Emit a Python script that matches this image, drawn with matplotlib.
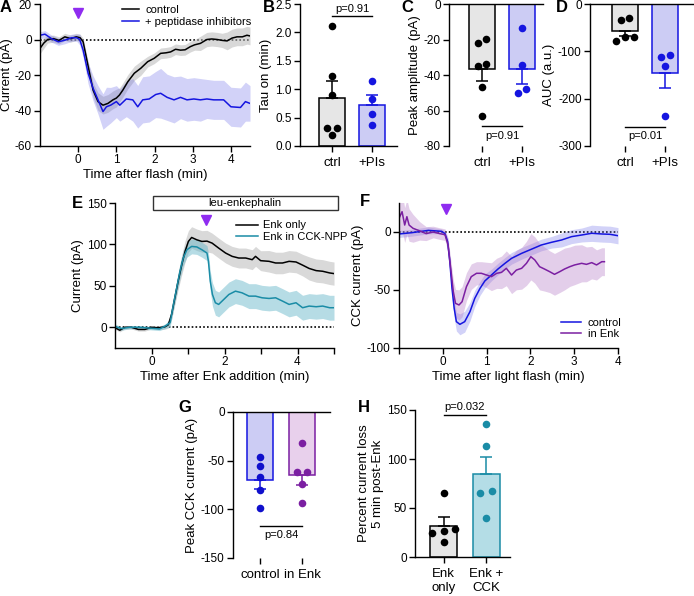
import numpy as np
import matplotlib
matplotlib.use('Agg')
import matplotlib.pyplot as plt
from matplotlib.patches import Rectangle

plt.rcParams['font.family'] = ['Liberation Sans', 'DejaVu Sans']
plt.rcParams['axes.unicode_minus'] = False
plt.rcParams['axes.linewidth'] = 1.0

# ---- data ----
# A: light-evoked current, control vs + peptidase inhibitors
a_ctrl_t = [-1.0, -0.9, -0.8, -0.65, -0.5, -0.35, -0.2, -0.05, 0.05, 0.13, 0.26, 0.39, 0.52, 0.65, 0.78,
            0.91, 1.0, 1.08, 1.17, 1.3, 1.47, 1.64, 1.82, 1.99, 2.16, 2.3, 2.42, 2.55, 2.68, 2.8, 2.94,
            3.05, 3.2, 3.37, 3.5, 3.64, 3.77, 3.9, 4.03, 4.16, 4.3, 4.42, 4.5]
a_ctrl_mean = [-5, -2, 0, 0.5, -0.5, 1.5, 0.5, 1.5, 1, -1.3, -15, -28.5, -35, -37, -36, -34, -33, -31.3,
               -28.5, -23.8, -19, -16.2, -12.5, -10.6, -7.8, -7.5, -7, -5.5, -6, -5.8, -4, -3, -2.2, 0,
               0.3, 0, -0.5, -0.8, 0.8, 1.5, 1.5, 2.4, 2]
a_ctrl_sem = [3, 3, 2, 2, 2, 2, 2, 2, 2, 2, 3, 4, 5, 5, 5, 5, 5, 4, 4, 4, 4, 4, 3, 3, 3, 3, 3, 3, 3, 3,
              3, 3, 4, 4, 4, 4, 4, 5, 5, 5, 5, 5, 5]
a_pi_t = [-1.0, -0.87, -0.7, -0.52, -0.35, -0.17, -0.04, 0.04, 0.13, 0.26, 0.39, 0.52, 0.65, 0.74, 0.85,
          1.0, 1.09, 1.26, 1.43, 1.56, 1.69, 1.86, 2.03, 2.16, 2.33, 2.51, 2.68, 2.85, 3.03, 3.2, 3.37,
          3.55, 3.81, 4.0, 4.25, 4.38, 4.5]
a_pi_mean = [2.4, 3, 0.5, -1.3, -0.4, 1, 1, 0, -6, -19, -27.5, -34, -40.6, -37.9, -37, -35, -37, -33.5,
             -34, -37.9, -34, -33.5, -31, -30.3, -32.6, -34, -32.6, -34, -33.5, -34, -33.5, -34, -34,
             -37.9, -38.3, -35, -36]
a_pi_sem = [2, 2, 2, 2, 2, 2, 2, 3, 4, 6, 7, 8, 10, 11, 10, 9, 9, 10, 12, 12, 13, 13, 13, 14, 13, 13,
            12, 12, 12, 12, 11, 11, 11, 11, 11, 11, 10]

# B-D: individual cells
b_ctrl = [2.12, 1.23, 0.90, 0.32, 0.32, 0.19]
b_pis = [1.14, 0.83, 0.56, 0.37]
c_ctrl = [-22.2, -19.9, -34.8, -33.8, -46.6, -62.9]
c_pis = [-13.3, -34.4, -50.0, -48.0]
d_ctrl = [-30.3, -33.8, -77.5, -70.4, -70.4]
d_pis = [-111.3, -107.7, -130.3, -236.6]
bcd_labels = ['ctrl', '+PIs']

# E: enkephalin current
e_enk_t = [-1.0, -0.87, -0.73, -0.55, -0.36, -0.18, 0.0, 0.18, 0.37, 0.46, 0.55, 0.64, 0.73, 0.83, 0.92,
           1.01, 1.10, 1.24, 1.38, 1.52, 1.66, 1.84, 2.03, 2.21, 2.39, 2.58, 2.76, 2.85, 2.99, 3.22, 3.4,
           3.59, 3.77, 3.96, 4.14, 4.32, 4.51, 4.69, 4.88, 5.0]
e_enk_mean = [-0.4, -3.6, 0, 0, -2.6, -2.6, 0, -0.6, 0.6, 3, 15.6, 35.6, 55.6, 75.6, 91.6, 103.6, 108.4,
              105.6, 103.6, 104, 101.6, 95.6, 89.6, 85.6, 83.6, 83.6, 81.6, 85.6, 80.4, 79.6, 77.6, 77.6,
              79.6, 78.8, 75, 71, 68.4, 67.6, 65.6, 64.8]
e_enk_sem = [2, 2, 2, 2, 2, 2, 2, 2, 3, 4, 6, 8, 10, 12, 13, 13, 13, 13, 13, 13, 12, 12, 12, 12, 12, 12,
             12, 12, 12, 13, 13, 13, 13, 13, 13, 14, 14, 14, 14, 14]
e_npp_t = [-1.0, -0.83, -0.6, -0.33, -0.05, 0.22, 0.4, 0.51, 0.60, 0.69, 0.78, 0.87, 0.97, 1.10, 1.24,
           1.38, 1.52, 1.56, 1.61, 1.67, 1.75, 1.84, 1.98, 2.12, 2.30, 2.48, 2.67, 2.85, 3.03, 3.22, 3.40,
           3.59, 3.77, 3.96, 4.14, 4.32, 4.51, 4.69, 4.88, 5.0]
e_npp_mean = [1, -1.5, 0, 0, -1, -2, 2, 5.6, 27.6, 47.6, 67.6, 83.6, 93.6, 97.6, 97, 93.6, 89.6, 79.6,
              55.6, 39.6, 29.6, 27.6, 33.6, 39.6, 43.6, 41.6, 37.6, 37.6, 35.6, 34.8, 35.6, 31.6, 27.6,
              29.6, 23.6, 25.6, 24.8, 25.6, 23.6, 23.6]
e_npp_sem = [3, 2, 2, 2, 2, 2, 3, 5, 7, 8, 9, 9, 9, 9, 9, 9, 9, 10, 12, 14, 15, 15, 15, 15, 15, 15, 15,
             15, 15, 15, 15, 15, 15, 15, 15, 15, 15, 15, 15, 15]

# F: CCK current, control vs in Enk
f_ctrl_t = [-1.0, -0.71, -0.33, -0.03, 0.05, 0.11, 0.16, 0.21, 0.26, 0.31, 0.39, 0.5, 0.62, 0.73, 0.85,
            0.96, 1.11, 1.26, 1.42, 1.57, 1.8, 2.02, 2.25, 2.48, 2.71, 2.94, 3.17, 3.4, 3.63, 3.82, 4.0]
f_ctrl_mean = [-1.7, -0.6, 1.4, 0.6, -1.4, -8.3, -25.6, -48.6, -65.8, -77.3, -79.6, -77.3, -68.7, -57.2,
               -48.6, -42.2, -37.1, -31.9, -27, -22.7, -18.4, -14.9, -11.2, -8.9, -6.9, -4, -2.6, -1.1,
               -1.7, -2, -3.2]
f_ctrl_sem = [3, 3, 3, 2, 2, 3, 5, 7, 8, 8, 9, 9, 8, 7, 6, 6, 5, 5, 5, 5, 5, 5, 5, 5, 6, 6, 6, 7, 7, 7, 7]
f_enk_t = [-1.0, -0.93, -0.87, -0.82, -0.77, -0.68, -0.53, -0.38, -0.22, -0.07, 0.05, 0.12, 0.18, 0.24,
           0.29, 0.37, 0.44, 0.54, 0.65, 0.77, 0.88, 1.0, 1.11, 1.23, 1.34, 1.45, 1.57, 1.68, 1.8, 1.91,
           2.01, 2.1, 2.21, 2.32, 2.44, 2.55, 2.67, 2.78, 2.9, 3.01, 3.17, 3.28, 3.4, 3.51, 3.63, 3.69]
f_enk_mean = [11.8, 17.5, 6, 13.2, 6, 3.2, 1, -1.4, 0, -1.4, -2.3, -11.2, -31.3, -51.4, -61.5, -62.9,
              -60.1, -47.1, -38.5, -35.6, -35.6, -37.1, -38.5, -35.6, -34.8, -31.3, -37.1, -32.8, -31.3,
              -27, -21.3, -24.1, -29.9, -31.9, -34.2, -36.5, -34.2, -31.9, -29.9, -28.4, -27, -27.9,
              -26.4, -28.4, -25.6, -25.6]
f_enk_sem = [14, 16, 15, 15, 14, 12, 8, 6, 5, 5, 5, 6, 8, 10, 12, 13, 13, 12, 11, 10, 10, 11, 12, 13, 14,
             15, 16, 17, 18, 19, 20, 20, 20, 19, 18, 18, 18, 18, 17, 17, 16, 15, 14, 13, 12, 12]

# G, H: individual cells
g_ctrl = [-45.9, -55.2, -67.1, -80.2, -99.0]
g_enk = [-31.5, -61.3, -61.3, -74.3, -93.5]
g_labels = ['control', 'in Enk']
h_enk = [65.8, 28.5, 26.1, 25.0, 14.9]
h_cck = [135.4, 113.6, 67.5, 65.2, 40.3]
h_labels = ['Enk\nonly', 'Enk +\nCCK']

flash_time = 0.0
enk_flash_time = 1.5

# ---- colours ----
BLUE = '#1515e0'
BLUE_FACE = '#ccccf4'
GRAY_FACE = '#e6e6e6'
PURPLE = '#7b1fa2'
PURPLE_FACE = '#e8d0ec'
TEAL = '#1a8ca6'
TEAL_FACE = '#b4dde6'
VIOLET = '#8f2cf0'

W, H = 694, 596
fig = plt.figure(figsize=(W / 100, H / 100), dpi=100)


def box(x0, y0, x1, y1):
    return [x0 / W, 1 - y1 / H, (x1 - x0) / W, (y1 - y0) / H]


def style(ax):
    for s in ['top', 'right']:
        ax.spines[s].set_visible(False)
    ax.tick_params(direction='out', length=4, width=1, labelsize=8.5, pad=2)


def trace(ax, t, m, s, color, band, alpha, label):
    t, m, s = np.array(t), np.array(m), np.array(s)
    ax.fill_between(t, m - s, m + s, color=band, alpha=alpha, lw=0)
    ax.plot(t, m, color=color, lw=1.1, label=label)


def swarm(vals, tol, step):
    vals = np.asarray(vals)
    order = np.argsort(vals)
    offs = np.zeros(len(vals))
    groups, cur = [], [order[0]]
    for i in order[1:]:
        if vals[i] - vals[cur[-1]] < tol:
            cur.append(i)
        else:
            groups.append(cur)
            cur = [i]
    groups.append(cur)
    for g in groups:
        for k, i in enumerate(g):
            offs[i] = (k - (len(g) - 1) / 2) * step
    return offs


def bars(ax, groups, labels, faces, edges, dots, tol, step, width=0.64):
    for i, vals in enumerate(groups):
        v = np.array(vals)
        mean = v.mean()
        sem = v.std(ddof=1) / np.sqrt(len(v))
        ax.bar(i, mean, width, color=faces[i], edgecolor=edges[i], lw=1.1, zorder=1)
        yerr = [[0], [sem]] if mean > 0 else [[sem], [0]]
        ax.errorbar(i, mean, yerr=yerr, color=edges[i], capsize=4.5, elinewidth=1.1,
                    capthick=1.1, zorder=2)
        ax.scatter(i + swarm(v, tol, step), v, s=30, color=dots[i], lw=0, zorder=3)
    ax.set_xticks(range(len(groups)))
    ax.set_xticklabels(labels, fontsize=9.5)
    ax.tick_params(axis='x', pad=4)


def neg_axis(ax):
    ax.spines['bottom'].set_visible(False)
    ax.spines['top'].set_visible(True)


def zero_line(ax):
    ax.axhline(0, color='black', ls=(0, (1, 1.3)), lw=1.2, zorder=0)


# ---- A ----
axA = fig.add_axes(box(40, 4, 250, 146))
style(axA)
zero_line(axA)
trace(axA, a_ctrl_t, a_ctrl_mean, a_ctrl_sem, 'black', '#b8b8b8', 0.55, 'control')
trace(axA, a_pi_t, a_pi_mean, a_pi_sem, BLUE, '#6a6ae8', 0.3, '+ peptidase inhibitors')
axA.plot([flash_time], [15], marker='v', ms=6.5, color=VIOLET, clip_on=False)
axA.set_xlim(-1, 4.5)
axA.set_ylim(-60, 20)
axA.set_xticks([0, 1, 2, 3, 4])
axA.set_yticks([-60, -40, -20, 0, 20])
axA.set_xlabel('Time after flash (min)', fontsize=9.5, labelpad=2)
axA.set_ylabel('Current (pA)', fontsize=9.5, labelpad=1)
axA.legend(loc='upper left', bbox_to_anchor=(0.37, 1.025), frameon=False, fontsize=8,
           handlelength=1.5, handletextpad=0.6, labelspacing=0.15, borderaxespad=0)

# ---- B ----
axB = fig.add_axes(box(300, 4, 397, 146))
style(axB)
bars(axB, [b_ctrl, b_pis], bcd_labels, [GRAY_FACE, BLUE_FACE], ['black', BLUE], ['black', BLUE],
     0.1, 0.23)
axB.set_xlim(-0.8, 1.62)
axB.set_ylim(0, 2.5)
axB.set_yticks([0, 0.5, 1.0, 1.5, 2.0, 2.5])
axB.set_yticklabels(['0.0', '0.5', '1.0', '1.5', '2.0', '2.5'])
axB.set_ylabel('Tau on (min)', fontsize=9.5, labelpad=2)
axB.plot([0, 1], [2.28, 2.28], color='black', lw=1)
axB.text(0.5, 2.33, 'p=0.91', ha='center', va='bottom', fontsize=8)

# ---- C ----
axC = fig.add_axes(box(449, 4, 543, 146))
style(axC)
neg_axis(axC)
bars(axC, [c_ctrl, c_pis], bcd_labels, [GRAY_FACE, BLUE_FACE], ['black', BLUE], ['black', BLUE],
     3.4, 0.21)
axC.set_xlim(-0.83, 1.53)
axC.set_ylim(-80, 0)
axC.set_yticks([-80, -60, -40, -20, 0])
axC.set_ylabel('Peak amplitude (pA)', fontsize=9.5, labelpad=2)
axC.plot([0, 1], [-69, -69], color='black', lw=1)
axC.text(0.5, -71.5, 'p=0.91', ha='center', va='top', fontsize=8)

# ---- D ----
axD = fig.add_axes(box(590, 4, 693, 146))
style(axD)
neg_axis(axD)
bars(axD, [d_ctrl, d_pis], bcd_labels, [GRAY_FACE, BLUE_FACE], ['black', BLUE], ['black', BLUE],
     12.7, 0.22)
axD.set_xlim(-0.87, 1.69)
axD.set_ylim(-300, 0)
axD.set_yticks([-300, -200, -100, 0])
axD.set_ylabel('AUC (a.u.)', fontsize=9.5, labelpad=2)
axD.plot([0, 1], [-259, -259], color='black', lw=1)
axD.text(0.5, -268, 'p=0.01', ha='center', va='top', fontsize=8)

# ---- E ----
axE = fig.add_axes(box(115, 203, 334, 348))
style(axE)
zero_line(axE)
tE = np.array(e_enk_t)
axE.fill_between(tE, np.array(e_enk_mean) - e_enk_sem, np.array(e_enk_mean) + e_enk_sem,
                 color='#d9d9d9', lw=0)
tN = np.array(e_npp_t)
axE.fill_between(tN, np.array(e_npp_mean) - e_npp_sem, np.array(e_npp_mean) + e_npp_sem,
                 color='#5db3c6', alpha=0.45, lw=0)
axE.plot(tE, e_enk_mean, color='black', lw=1.1, label='Enk only')
axE.plot(tN, e_npp_mean, color=TEAL, lw=1.1, label='Enk in CCK-NPP')
axE.plot([enk_flash_time], [130], marker='v', ms=6.5, color=VIOLET, clip_on=False)
axE.add_patch(Rectangle((0.03, 141), 5.07, 17, facecolor='white', edgecolor='#333333', lw=1,
                        clip_on=False, zorder=5))
axE.text(2.56, 149.5, 'leu-enkephalin', ha='center', va='center', fontsize=8, zorder=6)
axE.set_xlim(-1, 5)
axE.set_ylim(-25, 150)
axE.set_xticks([0, 1, 2, 3, 4, 5])
axE.set_xticklabels(['0', '', '2', '', '4', ''])
axE.set_yticks([0, 50, 100, 150])
axE.set_xlabel('Time after Enk addition (min)', fontsize=9.5, labelpad=2)
axE.set_ylabel('Current (pA)', fontsize=9.5, labelpad=2)
axE.legend(loc='upper left', bbox_to_anchor=(0.53, 0.91), frameon=False, fontsize=8,
           handlelength=2.0, handletextpad=0.5, labelspacing=0.15, borderaxespad=0)

# ---- F ----
axF = fig.add_axes(box(399, 203, 618, 348))
style(axF)
zero_line(axF)
trace(axF, f_ctrl_t, f_ctrl_mean, f_ctrl_sem, BLUE, '#6a6ae8', 0.3, 'control')
trace(axF, f_enk_t, f_enk_mean, f_enk_sem, PURPLE, '#b77fc8', 0.38, 'in Enk')
axF.plot([flash_time + 0.07], [19.5], marker='v', ms=6.5, color=VIOLET, clip_on=False)
axF.set_xlim(-1, 4)
axF.set_ylim(-100, 25)
axF.set_xticks([-1, 0, 1, 2, 3, 4])
axF.set_xticklabels(['', '0', '1', '2', '3', '4'])
axF.set_yticks([-100, -50, 0])
axF.set_xlabel('Time after light flash (min)', fontsize=9.5, labelpad=2)
axF.set_ylabel('CCK current (pA)', fontsize=9.5, labelpad=2)
axF.legend(loc='lower left', bbox_to_anchor=(0.72, 0.03), frameon=False, fontsize=8,
           handlelength=1.8, handletextpad=0.6, labelspacing=0.15, borderaxespad=0)

# ---- G ----
axG = fig.add_axes(box(233, 412, 330, 558))
style(axG)
neg_axis(axG)
bars(axG, [g_ctrl, g_enk], g_labels, [BLUE_FACE, PURPLE_FACE], [BLUE, PURPLE], ['#1010cc', PURPLE],
     6.2, 0.24, width=0.62)
axG.set_xlim(-0.65, 1.67)
axG.set_ylim(-150, 0)
axG.set_yticks([-150, -100, -50, 0])
axG.set_ylabel('Peak CCK current (pA)', fontsize=9.5, labelpad=2)
axG.plot([0, 1], [-116.8, -116.8], color='black', lw=1)
axG.text(0.5, -121, 'p=0.84', ha='center', va='top', fontsize=8)

# ---- H ----
axH = fig.add_axes(box(415, 410, 510, 557))
style(axH)
bars(axH, [h_enk, h_cck], h_labels, [GRAY_FACE, TEAL_FACE], ['black', TEAL], ['black', TEAL],
     6.1, 0.28, width=0.63)
axH.set_xlim(-0.67, 1.56)
axH.set_ylim(0, 150)
axH.set_yticks([0, 50, 100, 150])
axH.set_ylabel('Percent current loss\n5 min post-Enk', fontsize=9.5, labelpad=2)
axH.plot([0, 1], [145, 145], color='black', lw=1, clip_on=False)
axH.text(0.5, 147.5, 'p=0.032', ha='center', va='bottom', fontsize=8)

# ---- panel letters ----
for letter, x, y in [('A', 6, 8), ('B', 269, 8), ('C', 407, 8), ('D', 562, 8), ('E', 77, 203),
                     ('F', 365, 202), ('G', 185, 407), ('H', 364, 407)]:
    fig.text(x / W, 1 - y / H, letter, fontsize=12, fontweight='bold', ha='center', va='center')

fig.savefig('out.png', dpi=100)
